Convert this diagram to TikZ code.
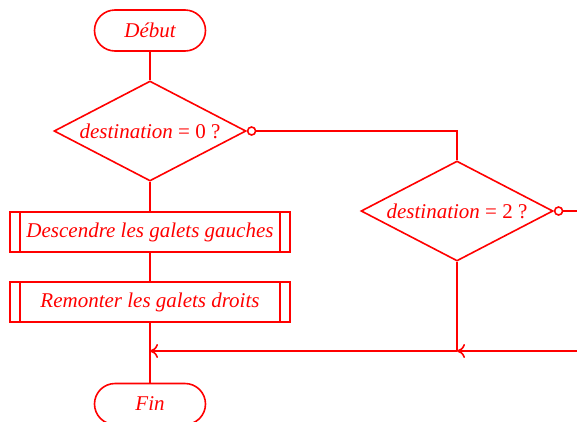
\documentclass[tikz,border=0pt]{standalone}
\usepackage{fontspec}
\setmainfont{Liberation Serif}
\usetikzlibrary{shapes.geometric,arrows.meta}
\definecolor{fc}{RGB}{255,0,0}
\tikzset{
  base/.style={draw=fc, line width=1.6pt, text=fc, font=\fontsize{21}{24}\selectfont\itshape},
  term/.style={base, rectangle, rounded corners=20.5pt, minimum width=111pt, minimum height=41pt, inner sep=0pt},
  test/.style={base, diamond, aspect=1.92, minimum width=192pt, minimum height=100pt, inner sep=0pt},
  proc/.style={base, rectangle, minimum width=280pt, minimum height=40pt, inner sep=0pt,
    path picture={
      \draw[fc, line width=1.6pt] ([xshift=10pt]path picture bounding box.north west) -- ([xshift=10pt]path picture bounding box.south west);
      \draw[fc, line width=1.6pt] ([xshift=-10pt]path picture bounding box.north east) -- ([xshift=-10pt]path picture bounding box.south east);
    }},
  neg/.style={draw=fc, line width=1.6pt, fill=white, circle, minimum size=8pt, inner sep=0pt},
  link/.style={draw=fc, line width=1.6pt},
  arr/.style={link, -{Computer Modern Rightarrow[length=8pt, width=14pt, line width=1.6pt]}}
}
\begin{document}
\begin{tikzpicture}[x=1pt, y=-1pt]
\useasboundingbox (0,0) rectangle (577,421);
\node[term] (debut) at (150,30.5) {Début};
\node[test] (d1) at (150,131) {destination \upshape= 0 ?};
\node[neg, anchor=west] (c1) at (d1.east) {};
\node[test] (d2) at (457,211) {destination \upshape= 2 ?};
\node[neg, anchor=west] (c2) at (d2.east) {};
\node[proc] (b1) at (150,232) {Descendre les galets gauches};
\node[proc] (b2) at (150,302) {Remonter les galets droits};
\node[term] (fin) at (150,404) {Fin};
\coordinate (r1) at (577,211);
\coordinate (r2) at (577,351);
\coordinate (m2) at (457,351);
\coordinate (m1) at (150,351);
\draw[link] (debut) -- (d1.north);
\draw[link] (d1.south) -- (b1.north);
\draw[link] (b1.south) -- (b2.north);
\draw[link] (b2.south) -- (fin.north);
\draw[link] (c1.east) -| (d2.north);
\draw[link] (c2.east) -- (r1);
\draw[link] (d2.south) -- (m2);
\draw[arr] (r2) -- (m2);
\draw[arr] (m2) -- (m1);
\end{tikzpicture}
\end{document}
